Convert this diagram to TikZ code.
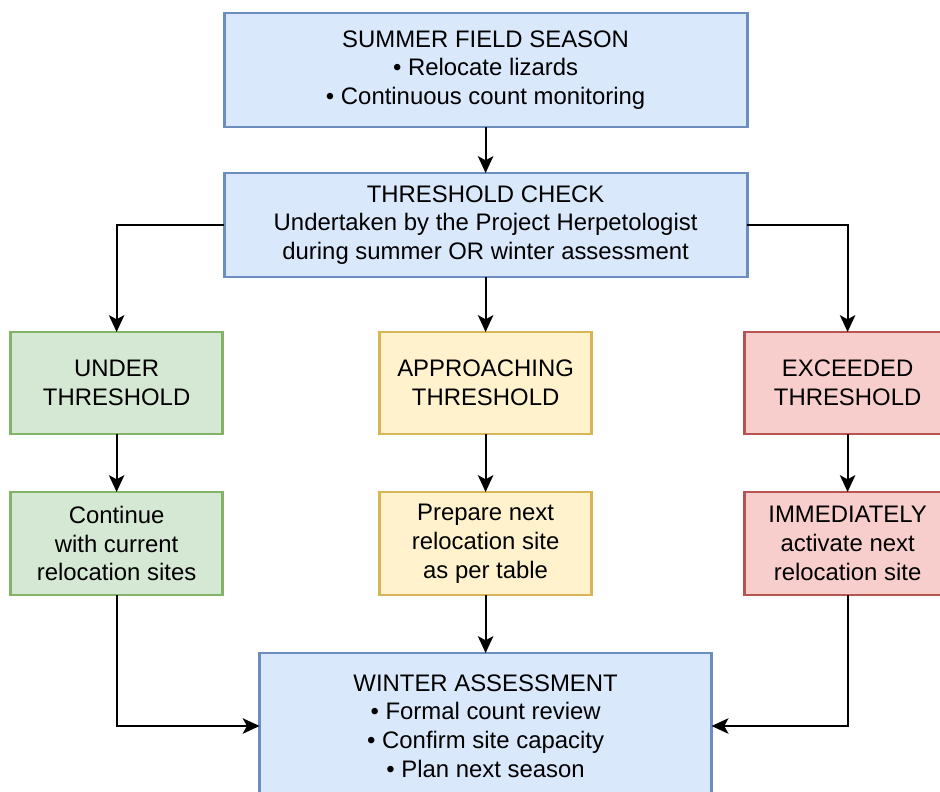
\documentclass[tikz,border=0pt]{standalone}
\usepackage{fontspec}
\setmainfont{Liberation Sans}
\usetikzlibrary{positioning, arrows.meta}

\definecolor{blueFill}{HTML}{DAE8FC}
\definecolor{blueLine}{HTML}{6C8EBF}
\definecolor{greenFill}{HTML}{D5E8D4}
\definecolor{greenLine}{HTML}{82B366}
\definecolor{yellowFill}{HTML}{FFF2CC}
\definecolor{yellowLine}{HTML}{D6B656}
\definecolor{redFill}{HTML}{F8CECC}
\definecolor{redLine}{HTML}{B85450}

\begin{document}
\begin{tikzpicture}[
        every node/.style={align=center, inner sep=0pt, outer sep=0pt, line width=2pt,
            font=\fontsize{17}{20.5}\selectfont},
        blueBox/.style={draw=blueLine, fill=blueFill},
        greenBox/.style={draw=greenLine, fill=greenFill, minimum width=5.3cm},
        yellowBox/.style={draw=yellowLine, fill=yellowFill, minimum width=5.3cm},
        redBox/.style={draw=redLine, fill=redFill, minimum width=5.15cm},
        flow/.style={line width=1.4pt, -{Stealth[length=12pt, width=11pt, inset=3pt]}}
        ]
        \useasboundingbox (0,0) rectangle (23.5,-19.775);

        % Nodes
        \node (summer) [blueBox, minimum width=13.075cm, minimum height=2.85cm]
            at (12.14,-1.75) {SUMMER FIELD SEASON\\• Relocate lizards\\• Continuous count monitoring};
        \node (check) [blueBox, minimum width=13.075cm, minimum height=2.6cm, below=1.15cm of summer]
            {THRESHOLD CHECK\\Undertaken by the Project Herpetologist\\during summer OR winter assessment};
        \node (approach) [yellowBox, minimum height=2.55cm, below=1.375cm of check] {APPROACHING\\THRESHOLD};
        \node (under) [greenBox, minimum height=2.55cm, left=3.925cm of approach] {UNDER\\THRESHOLD};
        \node (exceeded) [redBox, minimum height=2.55cm, right=3.825cm of approach] {EXCEEDED\\THRESHOLD};
        \node (prepare) [yellowBox, minimum height=2.575cm, below=1.45cm of approach] {Prepare next\\relocation site\\as per table};
        \node (continue) [greenBox, minimum height=2.575cm, below=1.45cm of under] {Continue\\with current\\relocation sites};
        \node (activate) [redBox, minimum height=2.575cm, below=1.45cm of exceeded] {IMMEDIATELY\\activate next\\relocation site};
        \node (winter) [blueBox, minimum width=11.3cm, minimum height=3.65cm, below=1.45cm of prepare]
            {WINTER ASSESSMENT\\• Formal count review\\• Confirm site capacity\\• Plan next season};

        % Arrows
        \draw[flow] (summer) -- (check);
        \draw[flow] (check.west) -| (under.north);
        \draw[flow] (check) -- (approach);
        \draw[flow] (check.east) -| (exceeded.north);
        \draw[flow] (under) -- (continue);
        \draw[flow] (approach) -- (prepare);
        \draw[flow] (exceeded) -- (activate);
        \draw[flow] (continue.south) |- (winter.west);
        \draw[flow] (prepare) -- (winter);
        \draw[flow] (activate.south) |- (winter.east);
    \end{tikzpicture}
\end{document}
